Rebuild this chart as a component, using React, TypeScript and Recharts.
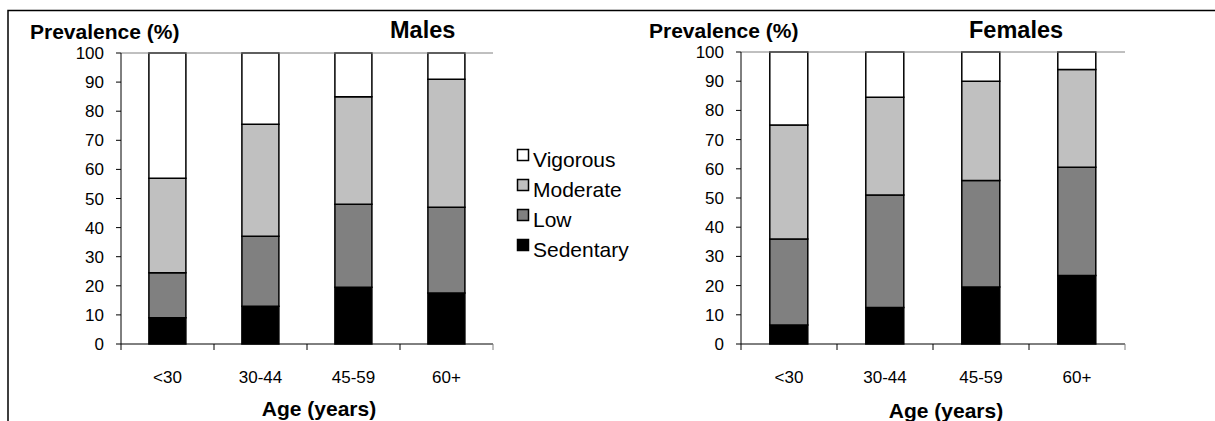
import { Bar, BarChart, ReferenceLine, XAxis, YAxis } from "recharts";

const ageGroups = ["<30", "30-44", "45-59", "60+"];

// Activity level shares (%) per age group, stacked bottom to top
const maleSedentary = [9, 13, 19.5, 17.5];
const maleLow = [15.5, 24, 28.5, 29.5];
const maleModerate = [32.5, 38.5, 37, 44];
const maleVigorous = [43, 24.5, 15, 9];

const femaleSedentary = [6.5, 12.5, 19.5, 23.5];
const femaleLow = [29.5, 38.5, 36.5, 37];
const femaleModerate = [39, 33.5, 34, 33.5];
const femaleVigorous = [25, 15.5, 10, 6];

const yTicks = [0, 10, 20, 30, 40, 50, 60, 70, 80, 90, 100];

const levels = [
  { key: "sedentary", name: "Sedentary", fill: "#000000" },
  { key: "low", name: "Low", fill: "#808080" },
  { key: "moderate", name: "Moderate", fill: "#c0c0c0" },
  { key: "vigorous", name: "Vigorous", fill: "#ffffff" },
];

const FONT = "'Liberation Sans', Arial, Helvetica, sans-serif";
const TICK_LEN = 6;
const TICK_GAP = 21;

function buildRows(sed: number[], low: number[], mod: number[], vig: number[]) {
  return ageGroups.map((age, i) => ({
    age,
    sedentary: sed[i],
    low: low[i],
    moderate: mod[i],
    vigorous: vig[i],
  }));
}

const maleRows = buildRows(maleSedentary, maleLow, maleModerate, maleVigorous);
const femaleRows = buildRows(femaleSedentary, femaleLow, femaleModerate, femaleVigorous);

// category label plus tick marks on the band edges
function AgeTick(props: any) {
  const { x, y, payload } = props;
  const half = payload.offset ?? 0;
  const axisY = y - TICK_LEN - TICK_GAP;
  const last = payload.value === ageGroups[ageGroups.length - 1];
  return (
    <g>
      <line x1={x - half} x2={x - half} y1={axisY} y2={axisY + TICK_LEN} stroke="#000" />
      {last && (
        <line x1={x + half} x2={x + half} y1={axisY} y2={axisY + TICK_LEN} stroke="#808080" />
      )}
      <text x={x} y={y} dy="0.71em" textAnchor="middle" fontSize={17} fontFamily={FONT} fill="#000">
        {payload.value}
      </text>
    </g>
  );
}

interface ChartProps {
  rows: ReturnType<typeof buildRows>;
  left: number;
  top: number;
  right: number;
}

function PrevalenceChart({ rows, left, top, right }: ChartProps) {
  return (
    <div style={{ position: "absolute", left, top: 0 }}>
      <BarChart
        width={600}
        height={421}
        data={rows}
        margin={{ top, right, bottom: 0, left: 0 }}
        barCategoryGap="30%"
      >
        <XAxis
          dataKey="age"
          height={77}
          interval={0}
          tickLine={false}
          tickSize={TICK_LEN}
          tickMargin={TICK_GAP}
          axisLine={{ stroke: "#000" }}
          tick={<AgeTick />}
        />
        <YAxis
          width={121}
          domain={[0, 100]}
          ticks={yTicks}
          interval={0}
          tickSize={5}
          tickMargin={12}
          axisLine={{ stroke: "#000" }}
          tickLine={{ stroke: "#000" }}
          tick={{ fill: "#000", fontSize: 17, fontFamily: FONT }}
        />
        <YAxis
          yAxisId="border"
          orientation="right"
          width={0}
          domain={[0, 100]}
          tick={false}
          tickLine={false}
          axisLine={{ stroke: "#808080" }}
        />
        <ReferenceLine y={100} stroke="#808080" />
        {levels.map((l) => (
          <Bar
            key={l.key}
            dataKey={l.key}
            name={l.name}
            stackId="a"
            fill={l.fill}
            stroke="#000"
            strokeWidth={1.5}
            isAnimationActive={false}
          />
        ))}
      </BarChart>
    </div>
  );
}

export default function App() {
  const legendRows = [...levels].reverse();
  return (
    <div
      style={{
        position: "relative",
        width: 1215,
        height: 421,
        overflow: "hidden",
        background: "#fff",
        fontFamily: FONT,
      }}
    >
      <style>{"body{margin:0}"}</style>
      <PrevalenceChart rows={maleRows} left={0} top={53} right={107} />
      <PrevalenceChart rows={femaleRows} left={620} top={52} right={95} />
      <svg
        width={1215}
        height={421}
        style={{ position: "absolute", left: 0, top: 0, pointerEvents: "none" }}
      >
        <path d="M8 421 V10.5 H1215" fill="none" stroke="#000" strokeWidth={1.5} />
        <g fontFamily={FONT} fontWeight="bold" fill="#000">
          <text x={30} y={39} fontSize={21}>Prevalence (%)</text>
          <text x={390} y={38} fontSize={23.5}>Males</text>
          <text x={319} y={416} fontSize={21}>
            <tspan textAnchor="middle">Age (years)</tspan>
          </text>
          <text x={649} y={38} fontSize={21}>Prevalence (%)</text>
          <text x={969} y={38} fontSize={23.5}>Females</text>
          <text x={946} y={418} fontSize={21} textAnchor="middle">Age (years)</text>
        </g>
        {legendRows.map((l, i) => (
          <g key={l.key}>
            <rect
              x={517.5}
              y={149.5 + i * 30}
              width={11}
              height={11}
              fill={l.fill}
              stroke="#000"
              strokeWidth={1.5}
            />
            <text x={533} y={167 + i * 30} fontSize={21} fontFamily={FONT} fill="#000">
              {l.name}
            </text>
          </g>
        ))}
      </svg>
    </div>
  );
}
